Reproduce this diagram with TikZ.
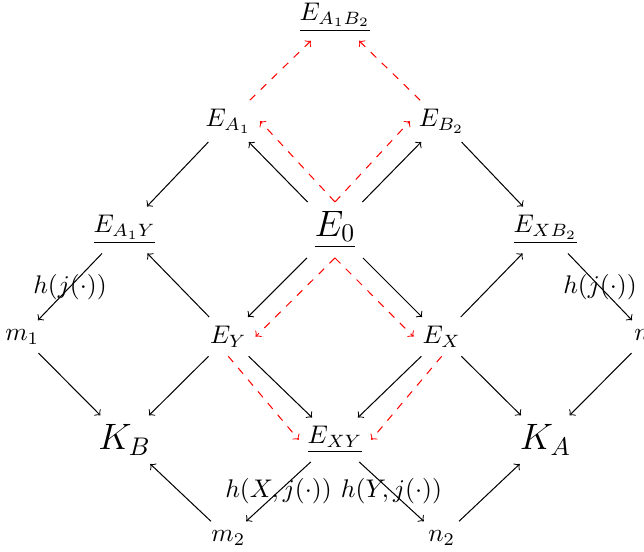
\documentclass[tikz,border=0pt]{standalone}
\usepackage{amsmath,amssymb}
\usepackage{tikz}

\begin{document}
\begin{tikzpicture}[
  big/.style={font=\Large},
  arrow/.style={->,black},
  redarrow/.style={->,red,dashed},
  lbl/.style={font=\normalsize}
]
\useasboundingbox (-4.616,-4.437) rectangle (4.258,3.169);

% top
\node (EA1B2) at (0,2.93) {$\underline{E_{A_1B_2}}$};
\node (EA1) at (-1.47,1.50) {$E_{A_1}$};
\node (EB2) at (1.47,1.50) {$E_{B_2}$};

% middle
\node (EA1Y) at (-2.90,0) {$\underline{E_{A_1Y}}$};
\node[big] (E0) at (0,0) {$\underline{E_0}$};
\node (EXB2) at (2.90,0) {$\underline{E_{XB_2}}$};

\node (m1) at (-4.31,-1.47) {$m_1$};
\node (EY) at (-1.47,-1.47) {$E_Y$};
\node (EX) at (1.47,-1.47) {$E_X$};
\node (n1) at (4.31,-1.47) {$n_1$};

% bottom
\node[big] (KB) at (-2.90,-2.89) {$K_B$};
\node (EXY) at (0,-2.89) {$\underline{E_{XY}}$};
\node[big] (KA) at (2.90,-2.89) {$K_A$};

\node (m2) at (-1.47,-4.24) {$m_2$};
\node (n2) at (1.47,-4.24) {$n_2$};

\draw[arrow] (EA1) -- (EA1Y);
\draw[arrow] (E0) -- (EA1);
\draw[arrow] (E0) -- (EB2);
\draw[arrow] (EB2) -- (EXB2);
\draw[arrow] (EA1Y) -- node[lbl] {$h(j(\cdot))$} (m1);
\draw[arrow] (EY) -- (EA1Y);
\draw[arrow] (E0) -- (EY);
\draw[arrow] (E0) -- (EX);
\draw[arrow] (EX) -- (EXB2);
\draw[arrow] (EXB2) -- node[lbl] {$h(j(\cdot))$} (n1);
\draw[arrow] (m1) -- (KB);
\draw[arrow] (EY) -- (KB);
\draw[arrow] (EY) -- (EXY);
\draw[arrow] (EX) -- (EXY);
\draw[arrow] (EX) -- (KA);
\draw[arrow] (n1) -- (KA);
\draw[arrow] (m2) -- (KB);
\draw[arrow] (EXY) -- node[lbl] {$h(X,j(\cdot))$} (m2);
\draw[arrow] (EXY) -- node[lbl] {$h(Y,j(\cdot))$} (n2);
\draw[arrow] (n2) -- (KA);

% red paths
\draw[redarrow] (EA1) -- (EA1B2);
\draw[redarrow] (EB2) -- (EA1B2);
\draw[redarrow] (E0.north) -- (EA1.east);
\draw[redarrow] (E0.north) -- (EB2.west);
\draw[redarrow] (E0.south) -- (EY.east);
\draw[redarrow] (E0.south) -- (EX.west);
\draw[redarrow] (EY.south) -- (EXY.west);
\draw[redarrow] (EX.south) -- (EXY.east);

\end{tikzpicture}
\end{document}
